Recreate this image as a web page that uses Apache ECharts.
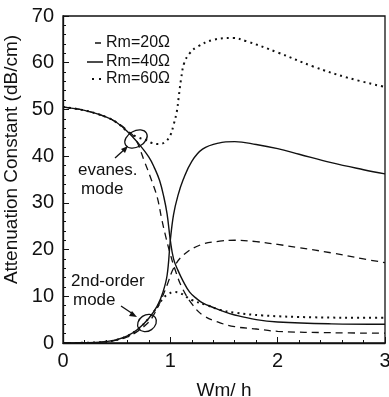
<!DOCTYPE html>
<html>
<head>
<meta charset="utf-8">
<script src="https://cdn.jsdelivr.net/npm/echarts@6/dist/echarts.min.js"></script>
<style>
  html, body { margin: 0; padding: 0; background: #fff; }
  #chart { width: 389px; height: 397px; }
</style>
</head>
<body>
<div id="chart"></div>
<script>
// x = Wm/h, y = attenuation constant (dB/cm)
// Rm = 40 ohm (solid)
const rm40Evan = [[0,50.5],[0.2,49.8],[0.4,48.4],[0.5,47.2],[0.6,45.3],[0.7,42.8],[0.8,39.8],[0.85,37.6],[0.9,34.8],[0.94,31.2],[0.97,27.6],[1.0,22],[1.03,18],[1.07,15.6],[1.12,13.2],[1.18,10.9],[1.25,9.4],[1.3,8.6],[1.4,7.6],[1.5,6.7],[1.6,6],[1.8,5],[2.0,4.5],[2.5,4.1],[3,4.0]];
const rm40Second = [[0,0],[0.3,0.1],[0.4,0.3],[0.5,0.7],[0.6,1.5],[0.7,3],[0.8,5.3],[0.88,8],[0.93,10.8],[0.97,14.5],[1.0,22],[1.03,27.5],[1.07,31.5],[1.12,35],[1.2,38.9],[1.3,41.5],[1.45,42.8],[1.6,43.1],[1.8,42.5],[2.0,41.6],[2.2,40.4],[2.5,38.6],[2.8,37.1],[3,36.2]];
// Rm = 20 ohm (dashed)
const rm20Evan = [[0,50.5],[0.2,49.8],[0.4,48.4],[0.5,47.2],[0.6,45.5],[0.67,43.9],[0.76,38.8],[0.83,34.5],[0.88,31],[0.92,26.5],[0.96,22.5],[1.0,19],[1.04,16],[1.11,11.8],[1.21,8.1],[1.3,6],[1.44,4.5],[1.6,3.5],[1.8,3],[2.0,2.5],[2.5,2.2],[3,2.1]];
const rm20Second = [[0,0],[0.3,0.1],[0.4,0.3],[0.5,0.6],[0.6,1.3],[0.7,2.6],[0.8,4.5],[0.84,5.8],[0.9,8.5],[0.97,12.4],[1.03,16],[1.12,18.8],[1.28,21],[1.46,21.8],[1.6,22],[1.8,21.7],[2.0,21.1],[2.2,20.4],[2.5,19.3],[2.8,18],[3,17.2]];
// Rm = 60 ohm (dotted)
const rm60Evan = [[0,50.5],[0.2,49.8],[0.4,48.4],[0.5,47.2],[0.6,45.3],[0.7,44],[0.78,43.4],[0.83,42.8],[0.89,42.6],[0.95,43],[1.0,44.5],[1.03,46.7],[1.06,49.5],[1.08,53],[1.1,56.5],[1.13,60],[1.18,62],[1.25,63.4],[1.4,64.9],[1.58,65.3],[1.71,64.6],[2.0,62.2],[2.33,59.2],[2.65,56.8],[3,54.8]];
const rm60Second = [[0,0],[0.3,0.1],[0.4,0.3],[0.5,0.7],[0.6,1.5],[0.7,3],[0.8,5.3],[0.88,7.8],[0.93,9.5],[0.97,10.3],[1.03,10.9],[1.09,10.7],[1.2,9.2],[1.34,8.1],[1.46,7.1],[1.6,6.5],[1.86,5.9],[2.33,5.5],[2.9,5.4],[3,5.4]];

const legendNames = ['Rm=20\u03a9', 'Rm=40\u03a9', 'Rm=60\u03a9'];
const xTicks = [0, 1, 2, 3];

const ink = '#111';
const font = 'Liberation Sans, Arial, sans-serif';

const chart = echarts.init(document.getElementById('chart'));

function curve(data, type, width) {
    return {
        type: 'line',
        data: data,
        showSymbol: false,
        symbol: 'none',
        smooth: 0.4,
        silent: true,
        lineStyle: { color: ink, width: width, type: type }
    };
}

const option = {
    animation: false,
    grid: { left: 63, right: 4, top: 16, bottom: 54, containLabel: false, outerBoundsMode: 'none',
        show: true, borderColor: ink, borderWidth: 1.3 },
    xAxis: {
        type: 'value', min: 0, max: 3, interval: 1,
        name: 'Wm/ h', nameLocation: 'middle', nameGap: 38,
        nameTextStyle: { fontFamily: font, fontSize: 19, color: ink },
        axisLine: { lineStyle: { color: ink, width: 1.3 } },
        axisTick: { inside: true, length: 6, lineStyle: { color: ink } },
        minorTick: { show: true, splitNumber: 5, length: 3, lineStyle: { color: ink } },
        splitLine: { show: false },
        axisLabel: { fontFamily: font, fontSize: 20, color: ink, margin: 8,
            formatter: v => xTicks.includes(v) ? String(v) : '' }
    },
    yAxis: {
        type: 'value', min: 0, max: 70, interval: 10,
        name: 'Attenuation Constant (dB/cm)', nameLocation: 'middle', nameGap: 40,
        nameTextStyle: { fontFamily: font, fontSize: 19, color: ink, padding: [0, 0, 0, 40] },
        axisLine: { show: true, lineStyle: { color: ink, width: 1.3 } },
        axisTick: { show: true, inside: true, length: 6, lineStyle: { color: ink } },
        minorTick: { show: true, splitNumber: 5, length: 3, lineStyle: { color: ink } },
        splitLine: { show: false },
        axisLabel: { fontFamily: font, fontSize: 20, color: ink, margin: 9 }
    },
    series: [
        curve(rm20Evan, [7, 5], 1.3),
        curve(rm20Second, [7, 5], 1.3),
        curve(rm40Evan, 'solid', 1.4),
        curve(rm40Second, 'solid', 1.4),
        curve(rm60Evan, [2, 4], 2),
        curve(rm60Second, [2, 4], 2)
    ],
    graphic: [
        // legend
        { type: 'line', shape: { x1: 95, y1: 43, x2: 101, y2: 43 }, style: { stroke: ink, lineWidth: 1.5 } },
        { type: 'line', shape: { x1: 87, y1: 62, x2: 103, y2: 62 }, style: { stroke: ink, lineWidth: 1.5 } },
        { type: 'line', shape: { x1: 92, y1: 79, x2: 103, y2: 79 }, style: { stroke: ink, lineWidth: 2, lineDash: [2, 5] } },
        { type: 'text', x: 106, y: 43, style: { text: legendNames[0], font: '16px ' + font, fill: ink, verticalAlign: 'middle' } },
        { type: 'text', x: 106, y: 62, style: { text: legendNames[1], font: '16px ' + font, fill: ink, verticalAlign: 'middle' } },
        { type: 'text', x: 106, y: 79, style: { text: legendNames[2], font: '16px ' + font, fill: ink, verticalAlign: 'middle' } },
        // annotations
        { type: 'text', x: 78, y: 170, style: { text: 'evanes.', font: '17px ' + font, fill: ink, verticalAlign: 'middle' } },
        { type: 'text', x: 81, y: 189, style: { text: 'mode', font: '17px ' + font, fill: ink, verticalAlign: 'middle' } },
        { type: 'text', x: 71, y: 281, style: { text: '2nd-order', font: '17px ' + font, fill: ink, verticalAlign: 'middle' } },
        { type: 'text', x: 73, y: 300, style: { text: 'mode', font: '17px ' + font, fill: ink, verticalAlign: 'middle' } },
        { type: 'line', shape: { x1: 115, y1: 158, x2: 125, y2: 149 }, style: { stroke: ink, lineWidth: 1.3 } },
        { type: 'polygon', shape: { points: [[128, 146], [121, 149], [125, 153]] }, style: { fill: ink } },
        { type: 'line', shape: { x1: 121, y1: 306, x2: 133, y2: 314 }, style: { stroke: ink, lineWidth: 1.3 } },
        { type: 'polygon', shape: { points: [[137, 317], [129, 316], [132, 311]] }, style: { fill: ink } },
        { type: 'ellipse', shape: { cx: 136, cy: 139, rx: 12, ry: 8 }, rotation: 0.5, originX: 136, originY: 139, style: { fill: 'none', stroke: ink, lineWidth: 1.3 } },
        { type: 'ellipse', shape: { cx: 147, cy: 323, rx: 10, ry: 8 }, rotation: 0.6, originX: 147, originY: 323, style: { fill: 'none', stroke: ink, lineWidth: 1.3 } }
    ]
};

chart.setOption(option);
</script>
</body>
</html>
